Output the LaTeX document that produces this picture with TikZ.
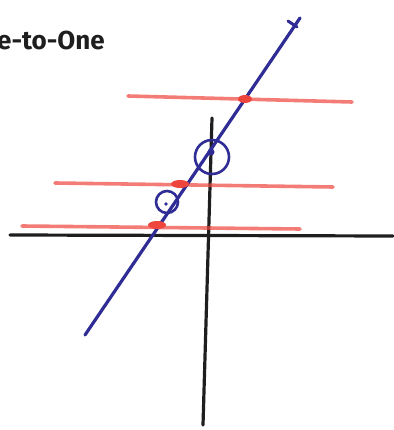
\documentclass[tikz,border=0pt]{standalone}
\usepackage{fontspec}
\setmainfont{Fira Sans}
\usetikzlibrary{shapes.geometric}
\definecolor{penblue}{RGB}{48,44,150}
\definecolor{penred}{RGB}{238,70,60}
\definecolor{penblack}{RGB}{30,30,30}
\tikzset{
  axis/.style={draw=penblack, line width=3.2pt, line cap=round},
  redline/.style={draw=penred, line width=3.6pt, opacity=0.7, line cap=round},
  blueline/.style={draw=penblue, line width=3.2pt, line cap=round},
  blob/.style={fill=penred, ellipse, inner sep=0pt, minimum width=18pt, minimum height=8pt},
  ring/.style={draw=penblue, line width=2.6pt, circle, inner sep=0pt},
}
\begin{document}
\begin{tikzpicture}[x=1pt,y=-1pt]
\useasboundingbox (0,0) rectangle (393,430);
\node[anchor=west, font=\bfseries\fontsize{26}{30}\selectfont, text=penblack, inner sep=0pt] (title) at (-3,40) {e-to-One};
% axes
\coordinate (hl) at (10,235);
\coordinate (hr) at (393,236);
\coordinate (vt) at (212,118);
\coordinate (vb) at (203,425);
\draw[axis] (hl) -- (hr);
\draw[axis] (vt) -- (vb);
% red horizontal lines
\coordinate (r1l) at (128,96);
\coordinate (r1r) at (352,102);
\coordinate (r2l) at (55,183);
\coordinate (r2r) at (333,187);
\coordinate (r3l) at (22,226);
\coordinate (r3r) at (300,229);
\draw[redline] (r1l) -- (r1r);
\draw[redline] (r2l) -- (r2r);
\draw[redline] (r3l) -- (r3r);
% blue line
\coordinate (bl) at (85,335);
\coordinate (bt) at (300,18);
\draw[blueline] (bl) -- (bt);
\draw[penblue, line width=3pt, line cap=round] (288,21) -- (297,27);
% red blobs
\node[blob, minimum width=14pt] (d1) at (245,99) {};
\node[blob] (d2) at (180,184) {};
\node[blob] (d3) at (157,225) {};
% rings
\node[ring, minimum size=34pt] (c1) at (212,157) {};
\node[ring, minimum size=22pt] (c2) at (167,202) {};
\fill[penblue] (166,204) circle (1.8pt);
\fill[penblue] (211,152) circle (3.5pt);
\end{tikzpicture}
\end{document}
